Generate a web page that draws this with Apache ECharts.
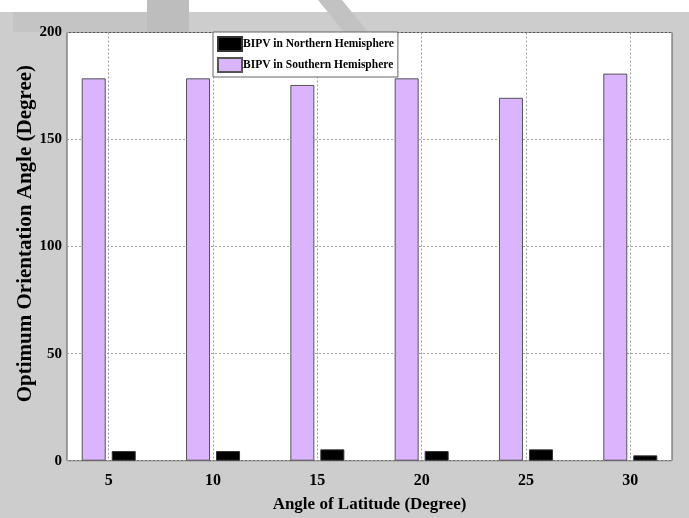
<!DOCTYPE html>
<html>
<head>
<meta charset="utf-8">
<script src="https://cdn.jsdelivr.net/npm/echarts@6/dist/echarts.min.js"></script>
<style>
  html, body { margin: 0; padding: 0; background: #cdcdcd; }
  #chart { width: 689px; height: 518px; }
</style>
</head>
<body>
<div id="chart"></div>
<script>
// latitude values (x axis) and the optimum angles
var latitudes = [5, 10, 15, 20, 25, 30];
var southern = [178.6, 178.6, 175.5, 178.6, 169.5, 180.8];
var northern = [4.5, 4.5, 5.3, 4.5, 5.3, 2.5];
var yTicks = [0, 50, 100, 150, 200];

var FONT = '"Liberation Serif", "Times New Roman", serif';

var chart = echarts.init(document.getElementById('chart'));

function pairs(vals) {
  return latitudes.map(function (x, i) { return [x, vals[i]]; });
}

var option = {
  backgroundColor: '#cdcdcd',
  animation: false,
  textStyle: { fontFamily: FONT },
  // faint watermark across the top of the page
  graphic: [
    { type: 'rect', shape: { x: 0, y: 0, width: 689, height: 12 }, style: { fill: '#ffffff' }, z: -10 },
    { type: 'rect', shape: { x: 13, y: 12, width: 134, height: 20 }, style: { fill: '#c4c4c4' }, z: -10 },
    { type: 'rect', shape: { x: 147, y: 0, width: 42, height: 32 }, style: { fill: '#bdbdbd' }, z: -10 },
    { type: 'polygon', shape: { points: [[318, 0], [342, 0], [368, 32], [344, 32]] }, style: { fill: '#c2c2c2' }, z: -10 }
  ],
  grid: {
    left: 67, right: 17, top: 32.5, bottom: 57.3,
    outerBoundsMode: 'none',
    containLabel: false,
    show: true,
    backgroundColor: '#ffffff',
    borderColor: '#555555',
    borderWidth: 1
  },
  legend: {
    data: ['BIPV in Northern Hemisphere', 'BIPV in Southern Hemisphere'],
    orient: 'vertical',
    left: 213, top: 32,
    padding: [4, 4, 4, 4],
    itemGap: 5,
    itemWidth: 24, itemHeight: 14,
    backgroundColor: '#ffffff',
    borderColor: '#666666',
    borderWidth: 1,
    icon: 'rect',
    textStyle: { fontFamily: FONT, fontWeight: 'bold', fontSize: 11.5, color: '#000', padding: [0, 0, 0, -4] }
  },
  xAxis: {
    type: 'value',
    min: 3, max: 32,
    name: 'Angle of Latitude (Degree)',
    nameLocation: 'middle',
    nameGap: 35,
    nameMoveOverlap: false,
    nameTextStyle: { fontFamily: FONT, fontWeight: 'bold', fontSize: 17, color: '#000' },
    axisLine: { show: false },
    axisTick: { show: false, customValues: latitudes },
    axisLabel: {
      customValues: latitudes,
      fontFamily: FONT, fontWeight: 'bold', fontSize: 16, color: '#000', margin: 12
    },
    splitLine: { show: true, lineStyle: { type: [2, 2], color: '#a0a0a0', width: 1 } }
  },
  yAxis: {
    type: 'value',
    min: 0, max: 200, interval: 50,
    name: 'Optimum Orientation Angle (Degree)',
    nameLocation: 'middle',
    nameRotate: 90,
    nameGap: 31,
    nameMoveOverlap: false,
    nameTextStyle: { fontFamily: FONT, fontWeight: 'bold', fontSize: 21, color: '#000', padding: [0, 0, 0, 26] },
    axisLine: { show: false },
    axisTick: { show: false },
    axisLabel: {
      fontFamily: FONT, fontWeight: 'bold', fontSize: 15, color: '#000', margin: 5,
      formatter: function (v) { return yTicks.indexOf(v) >= 0 ? String(v) : ''; }
    },
    splitLine: { show: true, lineStyle: { type: [2, 2], color: '#a0a0a0', width: 1 } }
  },
  series: [
    {
      name: 'BIPV in Southern Hemisphere',
      type: 'bar',
      data: pairs(southern),
      barWidth: 24,
      barGap: '25%',
      itemStyle: { color: '#dab4fd', borderColor: '#555555', borderWidth: 1 }
    },
    {
      name: 'BIPV in Northern Hemisphere',
      type: 'bar',
      data: pairs(northern),
      barWidth: 24,
      barGap: '25%',
      itemStyle: { color: '#000000', borderColor: '#333333', borderWidth: 1 }
    }
  ]
};

chart.setOption(option);
</script>
</body>
</html>
